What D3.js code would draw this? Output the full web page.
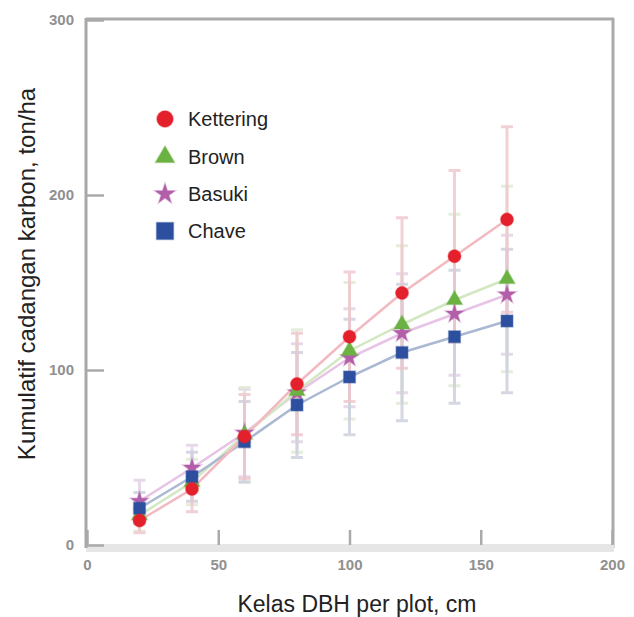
<!DOCTYPE html>
<html><head><meta charset="utf-8">
<script src="https://cdn.jsdelivr.net/npm/d3@7/dist/d3.min.js"></script>
<style>body{margin:0;background:#fff;} text{font-family:"Liberation Sans",Arial,sans-serif;}</style>
</head><body><svg id="c" width="634" height="617"></svg>
<script>
const dbh = [20, 40, 60, 80, 100, 120, 140, 160];
const seriesNames = ["Kettering", "Brown", "Basuki", "Chave"];
const kettering = [14, 32, 62, 92, 119, 144, 165, 186];
const ketteringErr = [7, 13, 24, 29, 37, 43, 49, 53];
const brown = [17, 36, 63, 88, 111, 126, 140, 152];
const brownErr = [9, 13, 27, 35, 39, 45, 49, 53];
const basuki = [25, 44, 64, 87, 107, 121, 132, 143];
const basukiErr = [12, 13, 25, 28, 28, 34, 35, 34];
const chave = [21, 39, 59, 80, 96, 110, 119, 128];
const chaveErr = [9, 14, 23, 30, 33, 39, 38, 41];
const xTicks = [0, 50, 100, 150, 200];
const yTicks = [0, 100, 200, 300];

const styles = {
  Kettering: {sym: d3.symbolCircle, fill: "#e4202c", line: "#f3b9c1", err: "#efc6cc", size: 130, lsize: 210},
  Brown: {sym: d3.symbolTriangle, fill: "#6bb243", line: "#d2e7c2", err: "#dfe9d3", size: 110, lsize: 160},
  Basuki: {sym: d3.symbolStar, fill: "#b25ea9", line: "#e7c3e5", err: "#e2d0e6", size: 100, lsize: 130},
  Chave: {sym: d3.symbolSquare, fill: "#2c4f9f", line: "#aab8d2", err: "#cbcfdd", size: 140, lsize: 290}
};
const data = {
  Kettering: [kettering, ketteringErr],
  Brown: [brown, brownErr],
  Basuki: [basuki, basukiErr],
  Chave: [chave, chaveErr]
};

const svg = d3.select("#c");
const x = d3.scaleLinear().domain([0, 200]).range([87, 612]);
const y = d3.scaleLinear().domain([0, 300]).range([545, 20]);

// frame
svg.append("line").attr("x1", 86).attr("x2", 614).attr("y1", 19).attr("y2", 19).attr("stroke", "#aaa").attr("stroke-width", 3);
svg.append("line").attr("x1", 613).attr("x2", 613).attr("y1", 18).attr("y2", 548).attr("stroke", "#aaa").attr("stroke-width", 3);
svg.append("rect").attr("x", 86).attr("y", 544).attr("width", 528).attr("height", 8).attr("fill", "#e6e6e6");

const xAxis = svg.append("g").attr("transform", "translate(0,545)")
  .call(d3.axisBottom(x).tickValues(xTicks).tickSize(-15).tickPadding(14).tickFormat(d3.format("d")));
const yAxis = svg.append("g").attr("transform", "translate(86,0)")
  .call(d3.axisLeft(y).tickValues(yTicks).tickSize(-18).tickPadding(12).tickFormat(d3.format("d")));
[xAxis, yAxis].forEach(g => {
  g.select(".domain").remove();
  g.selectAll(".tick line").attr("stroke", "#aaa").attr("stroke-width", 2.5);
  g.selectAll(".tick text").attr("fill", "#909090").attr("font-size", 15).attr("font-weight", "bold");
});
svg.append("line").attr("x1", 86).attr("x2", 86).attr("y1", 18).attr("y2", 548).attr("stroke", "#a8a8a8").attr("stroke-width", 3);

// error bars
const order = ["Basuki", "Brown", "Chave", "Kettering"];
order.forEach(n => {
  const [vals, errs] = data[n];
  const st = styles[n];
  const g = svg.append("g").attr("opacity", 0.8);
  dbh.forEach((d, i) => {
    const cx = x(d), top = y(vals[i] + errs[i]), bot = y(vals[i] - errs[i]);
    g.append("line").attr("x1", cx).attr("x2", cx).attr("y1", top).attr("y2", bot).attr("stroke", st.err).attr("stroke-width", 3);
    [top, bot].forEach(yy => g.append("line").attr("x1", cx - 6).attr("x2", cx + 6).attr("y1", yy).attr("y2", yy).attr("stroke", st.err).attr("stroke-width", 3));
  });
});
// lines
const lineGen = d3.line().x((d, i) => x(dbh[i])).y(d => y(d));
order.forEach(n => {
  svg.append("path").attr("d", lineGen(data[n][0])).attr("fill", "none").attr("stroke", styles[n].line).attr("stroke-width", 2.5);
});
// markers
order.forEach(n => {
  const st = styles[n];
  svg.append("g").selectAll("path").data(data[n][0]).join("path")
    .attr("d", d3.symbol().type(st.sym).size(st.size))
    .attr("transform", (d, i) => `translate(${x(dbh[i])},${y(d)})`)
    .attr("fill", st.fill).attr("stroke", st.fill).attr("stroke-opacity", 0.35).attr("stroke-width", 1.5);
});

// legend
const legY = [119, 157, 194, 231];
seriesNames.forEach((n, i) => {
  const st = styles[n];
  svg.append("path").attr("d", d3.symbol().type(st.sym).size(st.lsize)())
    .attr("transform", `translate(165,${legY[i]})`).attr("fill", st.fill)
    .attr("stroke", st.fill).attr("stroke-opacity", 0.35).attr("stroke-width", 1.5);
  svg.append("text").attr("x", 188).attr("y", legY[i] + 7).attr("font-size", 20).attr("fill", "#222").text(n);
});

// axis titles
svg.append("text").attr("x", 357).attr("y", 612).attr("text-anchor", "middle").attr("font-size", 23).attr("fill", "#222").text("Kelas DBH per plot, cm");
svg.append("text").attr("transform", "translate(35,274) rotate(-90)").attr("text-anchor", "middle").attr("font-size", 24).attr("fill", "#222").text("Kumulatif cadangan karbon, ton/ha");
</script></body></html>
